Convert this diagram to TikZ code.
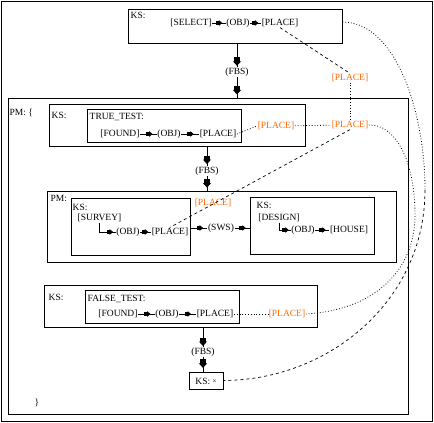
\documentclass[tikz,border=0pt]{standalone}
\usepackage{fontspec}
\setmainfont{Liberation Serif}
\usetikzlibrary{arrows.meta,decorations.markings}
\definecolor{refcol}{RGB}{255,102,0}
\newcommand{\cgarrow}{\fill (-6.5pt,-1.8pt) rectangle (-3pt,1.8pt); \arrow{Triangle[length=3.5pt,width=5.5pt]}}
\newcommand{\cgarrowbig}{\fill (-8.5pt,-2.6pt) rectangle (-4pt,2.6pt); \arrow{Triangle[length=4.5pt,width=8pt]}}
\tikzset{
  cg/.style={inner sep=0.5pt, font=\fontsize{9.5}{10}\selectfont},
  coref/.style={cg, text=refcol},
  box/.style={draw, line width=1pt, inner sep=0pt},
  flow/.style={line width=0.8pt, decoration={markings, mark=at position #1 with {\cgarrow}}, postaction={decorate}},
  flow/.default=0.75,
  flowbig/.style={line width=0.9pt, decoration={markings, mark=at position #1 with {\cgarrowbig}}, postaction={decorate}},
  flowbig/.default=0.9,
  link/.style={dotted, line width=0.8pt},
  dashlink/.style={dash pattern=on 3pt off 3pt, line width=0.7pt},
}

\begin{document}
\begin{tikzpicture}[x=1pt,y=-1pt]
\useasboundingbox (0,0) rectangle (434,423);
\draw[line width=1pt] (1,1) rectangle (432,421);

\node[box, minimum width=214pt, minimum height=34pt] (ks1) at (235,26) {};
\node[cg, anchor=west] (ks1lab) at (130,15) {KS:};
\node[cg] (select) at (191,23) {[SELECT]};
\node[cg] (obj1) at (238,23) {(OBJ)};
\node[cg] (place1) at (280,23) {[PLACE]};
\draw[flow] (select) -- (obj1);
\draw[flow] (obj1) -- (place1);

\node[box, minimum width=400pt, minimum height=316pt] (pm1) at (208,256) {};
\node[cg, anchor=west] (pm1lab) at (9,113) {PM: \{};
\node[cg] (fbs1) at (237,72) {(FBS)};
\draw[flowbig=0.95] (fbs1 |- ks1.south) -- (fbs1.north);
\draw[flowbig=0.85] (fbs1.south) -- (fbs1 |- pm1.north);

\node[box, minimum width=256pt, minimum height=42pt] (ks2) at (177,125) {};
\node[cg, anchor=west] (ks2lab) at (51,115) {KS:};
\node[box, minimum width=154pt, minimum height=33pt] (truetest) at (164,125.5) {};
\node[cg, anchor=west] (ttlab) at (89,117) {TRUE\_TEST:};
\node[cg] (found1) at (120,134) {[FOUND]};
\node[cg] (obj2) at (169,134) {(OBJ)};
\node[cg] (place2) at (218,134) {[PLACE]};
\draw[flow] (found1) -- (obj2);
\draw[flow=0.7] (obj2) -- (place2);

\node[coref] (corefa) at (276,126) {[PLACE]};
\node[coref] (corefb) at (350,125) {[PLACE]};
\node[coref] (coreftop) at (350,78) {[PLACE]};
\draw[link] (place2.east) -- (corefa.west);
\draw[link] (corefa) -- (corefb);
\draw[dashlink] (place1.south) -- (coreftop.north);
\draw[link] (coreftop) -- (corefb);

\node[box, minimum width=349pt, minimum height=71pt] (pm2) at (221.5,226.5) {};
\node[cg, anchor=west] (pm2lab) at (50,198) {PM:};
\node[cg] (fbs2) at (207,171) {(FBS)};
\draw[flowbig=0.9] (fbs2 |- ks2.south) -- (fbs2.north);
\draw[flowbig=0.8] (fbs2.south) -- (fbs2 |- pm2.north);

\node[box, minimum width=119pt, minimum height=57pt] (ks3) at (130.5,226.5) {};
\node[cg, anchor=west] (ks3lab) at (72,207) {KS:};
\node[cg] (survey) at (99.5,218) {[SURVEY]};
\node[cg] (obj3) at (128,232) {(OBJ)};
\node[cg] (place3) at (170,232) {[PLACE]};
\draw[flow=0.9] (survey.south) |- (obj3.west);
\draw[flow] (obj3) -- (place3);
\node[coref] (corefc) at (213,203) {[PLACE]};
\draw[dashlink] (corefb.south) -- (place3.north);

\node[box, minimum width=124pt, minimum height=57pt] (ks4) at (312,225.5) {};
\node[cg, anchor=west] (ks4lab) at (256,205) {KS:};
\node[cg] (design) at (279,218) {[DESIGN]};
\node[cg] (obj4) at (303,230) {(OBJ)};
\node[cg] (house) at (349,230) {[HOUSE]};
\draw[flow=0.9] (design.south) |- (obj4.west);
\draw[flow] (obj4) -- (house);

\node[cg] (sws) at (221,228) {(SWS)};
\draw[flow] (ks3.east |- sws) -- (sws.west);
\draw[flow] (sws.east) -- (ks4.west |- sws);

\node[box, minimum width=273pt, minimum height=42pt] (ks5) at (180.5,306) {};
\node[cg, anchor=west] (ks5lab) at (48,297) {KS:};
\node[box, minimum width=154pt, minimum height=33pt] (falsetest) at (162,306.5) {};
\node[cg, anchor=west] (ftlab) at (87,299) {FALSE\_TEST:};
\node[cg] (found2) at (118,314) {[FOUND]};
\node[cg] (obj5) at (167,314) {(OBJ)};
\node[cg] (place4) at (215,314) {[PLACE]};
\draw[flow] (found2) -- (obj5);
\draw[flow=0.7] (obj5) -- (place4);
\node[coref] (corefd) at (287,314) {[PLACE]};
\draw[link] (place4) -- (corefd);

\node[box, minimum width=34pt, minimum height=17pt] (ks6) at (206,380.5) {};
\node[cg] (ks6lab) at (206,381) {KS: \raisebox{1pt}{\fontsize{7}{7}\selectfont ×}};
\node[cg] (fbs3) at (203,352) {(FBS)};
\draw[flowbig=0.95] (fbs3 |- ks5.south) -- (fbs3.north);
\draw[flowbig=0.75] (fbs3.south) -- (fbs3 |- ks6.north);
\node[cg, anchor=west] (brace) at (34,403) {\}};

\coordinate (c1mid) at (425,190);
\coordinate (c2mid) at (415,215);
\draw[link] ([yshift=4pt]ks1.east) .. controls (395,22) and (425,110) .. (c1mid);
\draw[dashlink] (c1mid) .. controls (425,300) and (330,380) .. (ks6.east);
\draw[link] (corefb.east) .. controls (395,124) and (415,160) .. (c2mid)
  .. controls (415,270) and (375,310) .. (corefd.east);
\end{tikzpicture}
\end{document}
